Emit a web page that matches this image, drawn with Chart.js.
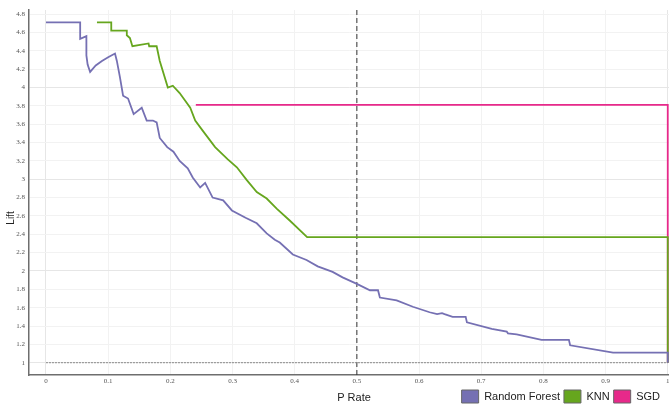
<!DOCTYPE html>
<html>
<head>
<meta charset="utf-8">
<script src="https://cdn.jsdelivr.net/npm/chart.js@4.4.1/dist/chart.umd.min.js"></script>
<style>
html,body{margin:0;padding:0;background:#fff;}
#wrap{width:669px;height:407px;position:relative;}
</style>
</head>
<body>
<div id="wrap"><canvas id="c" width="669" height="407"></canvas></div>
<script>
// ---- data ----
const seriesNames = ["Random Forest", "KNN", "SGD"];
const seriesColors = ["#7570b3", "#66a61e", "#e7298a"];

const rfX = [0, 0.055, 0.055, 0.065, 0.065, 0.067, 0.071, 0.080, 0.090, 0.100, 0.111, 0.114, 0.119, 0.124, 0.132, 0.141, 0.154, 0.162, 0.172, 0.178, 0.183, 0.195, 0.205, 0.215, 0.228, 0.236, 0.248, 0.256, 0.268, 0.285, 0.299, 0.321, 0.339, 0.355, 0.368, 0.376, 0.397, 0.419, 0.437, 0.461, 0.477, 0.500, 0.521, 0.534, 0.537, 0.564, 0.590, 0.617, 0.629, 0.637, 0.641, 0.654, 0.675, 0.677, 0.717, 0.741, 0.743, 0.757, 0.797, 0.841, 0.843, 0.912, 1.0, 1.0];
const rfY = [4.71, 4.71, 4.53, 4.56, 4.35, 4.25, 4.17, 4.24, 4.29, 4.33, 4.37, 4.29, 4.11, 3.91, 3.88, 3.71, 3.78, 3.64, 3.64, 3.62, 3.45, 3.35, 3.30, 3.20, 3.12, 3.02, 2.91, 2.96, 2.80, 2.77, 2.66, 2.58, 2.52, 2.41, 2.34, 2.31, 2.18, 2.12, 2.05, 1.99, 1.93, 1.86, 1.79, 1.79, 1.71, 1.68, 1.61, 1.55, 1.53, 1.54, 1.53, 1.50, 1.50, 1.44, 1.37, 1.34, 1.32, 1.31, 1.25, 1.25, 1.19, 1.11, 1.11, 1.0];

const knnX = [0.082, 0.105, 0.105, 0.130, 0.130, 0.135, 0.139, 0.165, 0.166, 0.178, 0.183, 0.196, 0.204, 0.215, 0.232, 0.240, 0.252, 0.272, 0.292, 0.307, 0.323, 0.339, 0.355, 0.371, 0.392, 0.420, 1.0, 1.0];
const knnY = [4.71, 4.71, 4.62, 4.62, 4.57, 4.54, 4.45, 4.48, 4.45, 4.45, 4.29, 4.00, 4.02, 3.94, 3.78, 3.64, 3.53, 3.35, 3.22, 3.13, 2.99, 2.86, 2.79, 2.68, 2.55, 2.37, 2.37, 1.0];

const sgdX = [0.241, 1.0, 1.0];
const sgdY = [3.81, 3.81, 1.0];

const baselineX = [0, 1];
const baselineY = [1, 1];
const cutoffX = [0.5, 0.5];
const cutoffY = [0.866, 4.845];

const xTicks = [0, 0.1, 0.2, 0.3, 0.4, 0.5, 0.6, 0.7, 0.8, 0.9, 1];
const yTicks = [1, 1.2, 1.4, 1.6, 1.8, 2, 2.2, 2.4, 2.6, 2.8, 3, 3.2, 3.4, 3.6, 3.8, 4, 4.2, 4.4, 4.6, 4.8];
const xTitle = "P Rate";
const yTitle = "Lift";

// ---- build ----
const pts = (xs, ys) => xs.map((x, i) => ({x: x, y: ys[i]}));
const seriesXY = [[rfX, rfY], [knnX, knnY], [sgdX, sgdY]];

const datasets = seriesXY.map((s, i) => ({
  label: seriesNames[i],
  data: pts(s[0], s[1]),
  borderColor: seriesColors[i],
  backgroundColor: seriesColors[i],
  borderWidth: 1.8,
  pointRadius: 0,
  tension: 0,
  fill: false
}));
datasets.push({
  label: "_baseline",
  data: pts(baselineX, baselineY),
  borderColor: "#8a8a8a",
  borderWidth: 1,
  borderDash: [2, 1],
  pointRadius: 0,
  fill: false,
  order: 5
});
datasets.push({
  label: "_cutoff",
  data: pts(cutoffX, cutoffY),
  borderColor: "#333333",
  borderWidth: 1,
  borderDash: [5, 3],
  pointRadius: 0,
  fill: false,
  order: 5
});

const titlesPlugin = {
  id: "titles",
  beforeDraw(chart) {
    if (chart.legend) { chart.legend.right = chart.width - 5; }
  },
  afterDraw(chart) {
    const ctx = chart.ctx;
    ctx.save();
    ctx.fillStyle = "#222";
    ctx.font = "11px 'Liberation Sans', Arial, sans-serif";
    ctx.textAlign = "center";
    ctx.textBaseline = "middle";
    ctx.fillText(xTitle, 354, 398);
    ctx.translate(11, 218);
    ctx.rotate(-Math.PI / 2);
    ctx.font = "10px 'Liberation Sans', Arial, sans-serif";
    ctx.fillText(yTitle, 0, 0);
    ctx.restore();
  }
};

const gridColor = (c) => {
  const v = c.tick ? c.tick.value : 0;
  return Math.abs(v - Math.round(v)) < 1e-6 ? "#e6e6e6" : "#f2f2f2";
};
const fmt = (v) => String(Math.round(v * 10) / 10);

new Chart(document.getElementById("c"), {
  type: "line",
  data: {datasets: datasets},
  plugins: [titlesPlugin],
  options: {
    responsive: false,
    animation: false,
    layout: {padding: {top: 10, right: 0, left: 0, bottom: 0}},
    scales: {
      x: {
        type: "linear",
        min: -0.0273,
        max: 1.002,
        afterBuildTicks: (s) => { s.ticks = xTicks.map(v => ({value: v})); },
        afterFit: (s) => { s.height = 11; s.paddingRight = 0; s.paddingLeft = 0; },
        border: {color: "#6e6e6e", width: 1.5},
        grid: {color: gridColor, drawTicks: false, lineWidth: 1},
        ticks: {
          padding: 2,
          color: "#555",
          font: {family: "'Liberation Serif', serif", size: 7},
          maxRotation: 0,
          callback: fmt
        }
      },
      y: {
        type: "linear",
        min: 0.866,
        max: 4.845,
        afterBuildTicks: (s) => { s.ticks = yTicks.map(v => ({value: v})); },
        afterFit: (s) => { s.width = 29; s.paddingTop = 0; s.paddingBottom = 0; },
        border: {color: "#6e6e6e", width: 1.5},
        grid: {color: gridColor, drawTicks: false, lineWidth: 1},
        ticks: {
          padding: 4,
          color: "#555",
          font: {family: "'Liberation Serif', serif", size: 7},
          callback: fmt
        }
      }
    },
    plugins: {
      tooltip: {enabled: false},
      legend: {
        position: "bottom",
        align: "end",
        maxHeight: 21,
        labels: {
          boxWidth: 17,
          boxHeight: 13,
          padding: 4,
          color: "#222",
          font: {family: "'Liberation Sans', Arial, sans-serif", size: 11},
          filter: (item) => !item.text.startsWith("_"),
          generateLabels: (chart) => {
            const items = Chart.defaults.plugins.legend.labels.generateLabels(chart);
            items.forEach(it => { it.strokeStyle = "#666"; it.lineWidth = 1; it.lineDash = []; });
            return items;
          }
        }
      }
    }
  }
});
</script>
</body>
</html>
